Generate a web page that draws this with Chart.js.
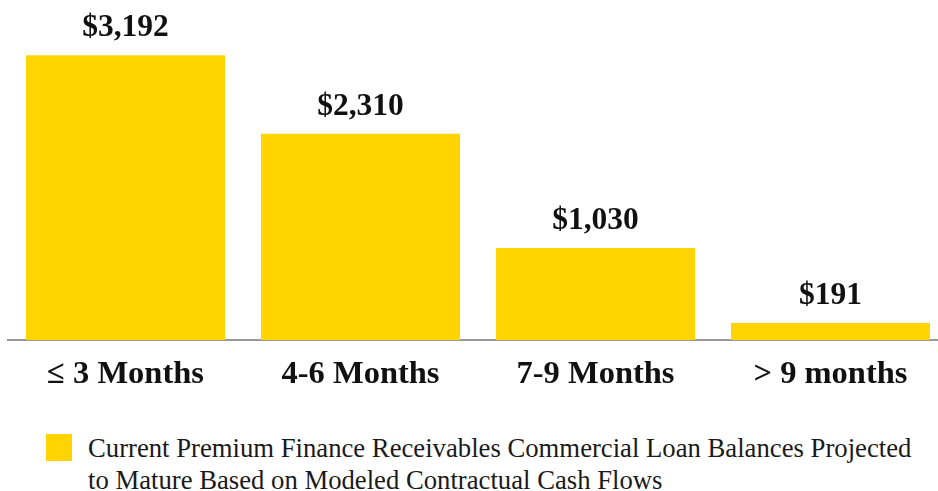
<!DOCTYPE html>
<html>
<head>
<meta charset="utf-8">
<script src="https://cdn.jsdelivr.net/npm/chart.js@4"></script>
<style>
  html, body { margin: 0; padding: 0; background: #fff; overflow: hidden; }
  #wrap { position: relative; width: 948px; height: 411px; }
  #legend { position: absolute; left: 46px; top: 432px; width: 890px; }
  #legend .box { position: absolute; left: 0; top: 2px; width: 26px; height: 27px; background: #FFD400; }
  #legend .txt { position: absolute; left: 42px; top: 0; font: 26.7px "Liberation Serif", "Times New Roman", serif; line-height: 32px; color: #1a1a1a; white-space: nowrap; }
</style>
</head>
<body>
<div id="wrap"><canvas id="chart"></canvas></div>
<div id="legend">
  <div class="box"></div>
  <div class="txt">Current Premium Finance Receivables Commercial Loan Balances Projected<br>to Mature Based on Modeled Contractual Cash Flows</div>
</div>
<script>
const buckets = ['\u2264 3 Months', '4-6 Months', '7-9 Months', '> 9 months'];
const balances = [3192, 2310, 1030, 191];
const seriesName = 'Current Premium Finance Receivables Commercial Loan Balances Projected to Mature Based on Modeled Contractual Cash Flows';

// dollar amount above each bar
const valueLabels = {
  id: 'valueLabels',
  afterDatasetsDraw(chart) {
    const ctx = chart.ctx;
    const meta = chart.getDatasetMeta(0);
    ctx.save();
    ctx.font = 'bold 31.5px "Liberation Serif", "Times New Roman", serif';
    ctx.fillStyle = '#111';
    ctx.textAlign = 'center';
    ctx.textBaseline = 'alphabetic';
    meta.data.forEach((bar, i) => {
      ctx.fillText('$' + balances[i].toLocaleString('en-US'), bar.x, bar.y - 19);
    });
    ctx.restore();
  }
};

new Chart(document.getElementById('chart'), {
  type: 'bar',
  data: {
    labels: buckets,
    datasets: [{
      label: seriesName,
      data: balances,
      backgroundColor: '#FFD400',
      barPercentage: 0.847,
      categoryPercentage: 1.0
    }]
  },
  options: {
    responsive: true,
    maintainAspectRatio: false,
    animation: false,
    layout: { padding: { left: 8, right: 0, top: 0, bottom: 10 } },
    scales: {
      x: {
        grid: { display: false },
        border: { color: '#999', width: 2 },
        ticks: {
          color: '#111',
          padding: 7,
          font: { family: '"Liberation Serif", "Times New Roman", serif', size: 32.5, weight: 'bold' }
        }
      },
      y: {
        display: false,
        min: 0,
        max: 3810
      }
    },
    plugins: {
      legend: { display: false },
      tooltip: { enabled: false }
    }
  },
  plugins: [valueLabels]
});
</script>
</body>
</html>
